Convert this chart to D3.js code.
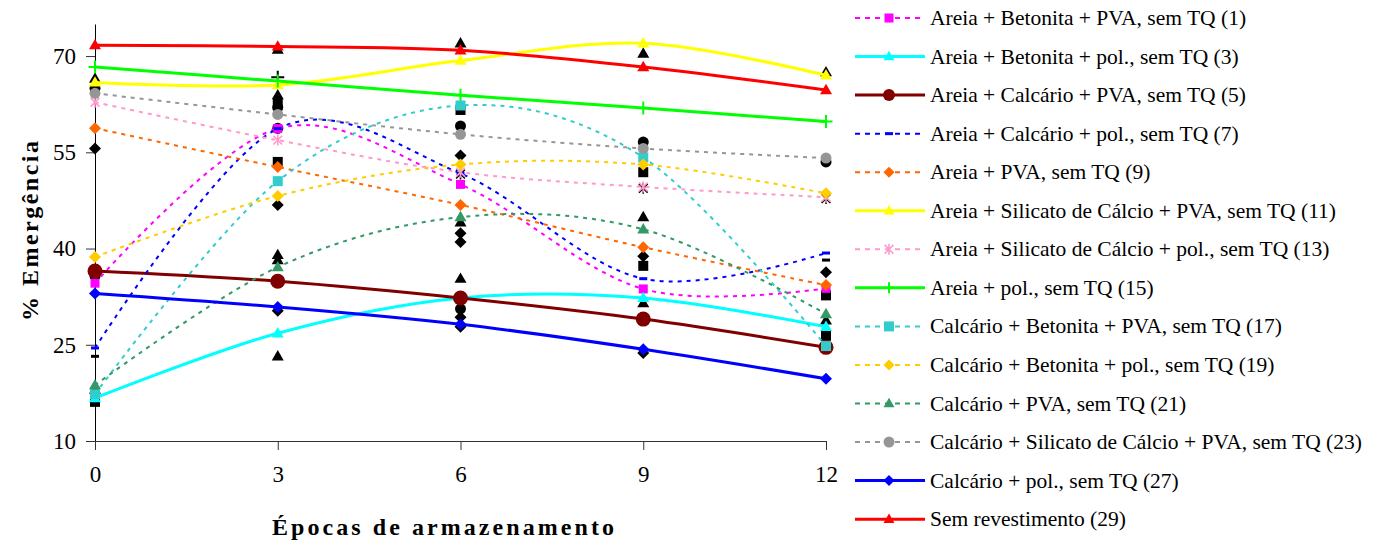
<!DOCTYPE html>
<html><head><meta charset="utf-8">
<script src="https://cdn.jsdelivr.net/npm/d3@7"></script>
<style>
html,body{margin:0;padding:0;background:#fff;}
svg{display:block;}
svg text{font-family:'Liberation Serif','DejaVu Serif',serif !important;}
</style></head>
<body>
<svg id="chart" width="1384" height="546"></svg>
<script>
// ---------- data ----------
const epochs = [0, 3, 6, 9, 12];
const yTicks = [10, 25, 40, 55, 70];
const xTitle = "Épocas de armazenamento";
const yTitle = "% Emergência";

const seriesNames = [
  "Areia + Betonita + PVA, sem TQ (1)",
  "Areia + Betonita + pol., sem TQ (3)",
  "Areia + Calcário + PVA, sem TQ (5)",
  "Areia + Calcário + pol., sem TQ (7)",
  "Areia + PVA, sem TQ (9)",
  "Areia + Silicato de Cálcio + PVA, sem TQ (11)",
  "Areia + Silicato de Cálcio + pol., sem TQ (13)",
  "Areia + pol., sem TQ (15)",
  "Calcário + Betonita + PVA, sem TQ (17)",
  "Calcário + Betonita + pol., sem TQ (19)",
  "Calcário + PVA, sem TQ (21)",
  "Calcário + Silicato de Cálcio + PVA, sem TQ (23)",
  "Calcário + pol., sem TQ (27)",
  "Sem revestimento (29)"
];
const s1  = [34.6, 58.7, 50.0, 33.7, 33.8];
const s3  = [16.7, 26.8, 32.3, 32.3, 27.8];
const s5  = [36.5, 34.9, 32.3, 29.0, 24.6];
const s7  = [24.5, 58.7, 51.7, 35.3, 39.3];
const s9  = [58.75, 52.7, 46.8, 40.2, 34.3];
const s11 = [65.9, 65.5, 69.3, 72.0, 67.0];
const s13 = [62.8, 56.9, 51.9, 49.6, 48.0];
const s15 = [68.3, 66.1, 63.9, 61.9, 59.8];
const s17 = [17.3, 50.5, 62.3, 54.2, 24.8];
const s19 = [38.7, 48.2, 53.1, 53.1, 48.6];
const s21 = [18.7, 37.1, 44.9, 43.0, 29.8];
const s23 = [64.2, 60.9, 57.8, 55.6, 54.1];
const s27 = [33.0, 30.9, 28.2, 24.3, 19.7];
const s29 = [71.7, 71.5, 70.9, 68.3, 64.7];
const seriesValues = [s1, s3, s5, s7, s9, s11, s13, s15, s17, s19, s21, s23, s27, s29];

// unlabelled black markers (epoch, value)
const blackTriangles = [[0,66.5],[0,18.0],[3,71.0],[3,63.9],[3,39.0],[3,38.2],[3,23.2],[6,72.0],[6,44.1],[6,35.3],[9,70.4],[9,44.9],[9,31.5],[12,67.5],[12,28.8]];
const blackCircles   = [[0,65.0],[0,35.7],[3,62.0],[3,58.75],[6,59.1],[6,30.6],[9,56.6],[12,53.5]];
const blackSquares   = [[0,16.1],[3,62.6],[3,53.5],[6,61.6],[9,51.9],[9,37.3],[12,32.7],[12,26.4]];
const blackDiamonds  = [[0,55.6],[3,46.8],[3,30.3],[6,54.5],[6,42.4],[6,41.0],[6,29.3],[6,27.8],[9,38.8],[9,23.7],[12,36.3]];
const blackDashes    = [[0,23.2],[12,38.2]];
const blackStars     = [[6,51.6],[9,49.4],[12,47.8]];
const blackPluses    = [[3,66.7]];

// ---------- styles ----------
const FONT = "'Liberation Serif','DejaVu Serif',serif";
const styles = [
  {color:"#FF00FF", marker:"square",   size:9,  dashed:true},
  {color:"#00FFFF", marker:"triangle", size:12, dashed:false},
  {color:"#800000", marker:"circle",   size:15, dashed:false},
  {color:"#0000FF", marker:"dash",     size:8,  dashed:true},
  {color:"#FF6600", marker:"diamond",  size:12, dashed:true},
  {color:"#FFFF00", marker:"triangle", size:12, dashed:false},
  {color:"#FF99CC", marker:"star",     size:11, dashed:true},
  {color:"#00FF00", marker:"plus",     size:13, dashed:false},
  {color:"#33CCCC", marker:"square",   size:10, dashed:true},
  {color:"#FFCC00", marker:"diamond",  size:12, dashed:true},
  {color:"#339966", marker:"triangle", size:12, dashed:true},
  {color:"#969696", marker:"circle",   size:11, dashed:true},
  {color:"#0000FF", marker:"diamond",  size:12, dashed:false},
  {color:"#FF0000", marker:"triangle", size:12, dashed:false}
];

const svg = d3.select("#chart").attr("font-family", FONT);
const x = d3.scaleLinear().domain([0, 12]).range([95, 826]);
const y = d3.scaleLinear().domain([10, 75]).range([441, 24]);

function drawMarker(g, type, cx, cy, s, color) {
  const h = s / 2;
  if (type === "square") {
    g.append("rect").attr("x", cx - h).attr("y", cy - h).attr("width", s).attr("height", s).attr("fill", color);
  } else if (type === "circle") {
    g.append("circle").attr("cx", cx).attr("cy", cy).attr("r", h).attr("fill", color);
  } else if (type === "triangle") {
    const hh = s * 0.866;
    g.append("path").attr("d", `M${cx},${cy - hh * 0.6}L${cx + h},${cy + hh * 0.4}L${cx - h},${cy + hh * 0.4}Z`).attr("fill", color);
  } else if (type === "diamond") {
    g.append("path").attr("d", `M${cx},${cy - h}L${cx + h},${cy}L${cx},${cy + h}L${cx - h},${cy}Z`).attr("fill", color);
  } else if (type === "dash") {
    g.append("rect").attr("x", cx - h).attr("y", cy - 1.5).attr("width", s).attr("height", 3).attr("fill", color);
  } else if (type === "star") {
    const a = h * 0.8;
    g.append("path").attr("d", `M${cx - a},${cy - a}L${cx + a},${cy + a}M${cx + a},${cy - a}L${cx - a},${cy + a}M${cx},${cy - h}L${cx},${cy + h}`)
      .attr("stroke", color).attr("stroke-width", 1.6).attr("fill", "none");
  } else if (type === "plus") {
    g.append("path").attr("d", `M${cx - h},${cy}L${cx + h},${cy}M${cx},${cy - h}L${cx},${cy + h}`)
      .attr("stroke", color).attr("stroke-width", 2).attr("fill", "none");
  }
}

// ---------- axes ----------
const axisColor = "#333";
const yAxis = d3.axisLeft(y).tickValues(yTicks).tickSize(9).tickSizeOuter(0).tickPadding(10);
const gy = svg.append("g").attr("transform", "translate(95,0)").call(yAxis).attr("font-family", FONT);
gy.select(".domain").attr("stroke", "#000");
gy.selectAll(".tick line").attr("stroke", axisColor);
gy.selectAll(".tick text").attr("font-size", 23).attr("font-family", FONT).attr("fill", "#000");

const xAxis = d3.axisBottom(x).tickValues(epochs).tickSize(9).tickSizeOuter(0).tickPadding(16);
const gx = svg.append("g").attr("transform", "translate(0,441)").call(xAxis).attr("font-family", FONT);
gx.select(".domain").attr("stroke", axisColor);
gx.selectAll(".tick line").attr("stroke", axisColor);
gx.selectAll(".tick text").attr("font-size", 23).attr("font-family", FONT).attr("fill", "#000");

svg.append("text").attr("x", 443).attr("y", 535).attr("text-anchor", "middle").attr("font-family", FONT)
  .attr("font-size", 24).attr("font-weight", "bold").attr("textLength", 342).attr("lengthAdjust", "spacing").text(xTitle);
svg.append("text").attr("transform", "translate(30,231) rotate(-90)").attr("text-anchor", "middle").attr("font-family", FONT)
  .attr("dominant-baseline", "central").attr("font-size", 24).attr("font-weight", "bold")
  .attr("textLength", 180).attr("lengthAdjust", "spacing").text(yTitle);

// ---------- black markers ----------
const gb = svg.append("g");
blackTriangles.forEach(p => drawMarker(gb, "triangle", x(p[0]), y(p[1]), 12, "#000"));
blackCircles.forEach(p => drawMarker(gb, "circle", x(p[0]), y(p[1]), 11, "#000"));
blackSquares.forEach(p => drawMarker(gb, "square", x(p[0]), y(p[1]), 10, "#000"));
blackDiamonds.forEach(p => drawMarker(gb, "diamond", x(p[0]), y(p[1]), 12, "#000"));
blackDashes.forEach(p => drawMarker(gb, "dash", x(p[0]), y(p[1]), 8, "#000"));
blackStars.forEach(p => drawMarker(gb, "star", x(p[0]), y(p[1]), 11, "#000"));
blackPluses.forEach(p => drawMarker(gb, "plus", x(p[0]), y(p[1]), 13, "#000"));

// ---------- series ----------
const line = d3.line().x((d, i) => x(epochs[i])).y(d => y(d)).curve(d3.curveCardinal.tension(0));
const gl = svg.append("g");
seriesValues.forEach((vals, k) => {
  const st = styles[k];
  gl.append("path").datum(vals).attr("d", line).attr("fill", "none")
    .attr("stroke", st.color).attr("stroke-width", st.dashed ? 2 : 3)
    .attr("stroke-dasharray", st.dashed ? "4,5" : null);
});
const gm = svg.append("g");
seriesValues.forEach((vals, k) => {
  const st = styles[k];
  vals.forEach((v, i) => drawMarker(gm, st.marker, x(epochs[i]), y(v), st.size, st.color));
});

// ---------- legend ----------
const lg = svg.append("g");
seriesNames.forEach((name, k) => {
  const st = styles[k];
  const cy = 18 + k * 38.55;
  lg.append("line").attr("x1", 855).attr("x2", 925).attr("y1", cy).attr("y2", cy)
    .attr("stroke", st.color).attr("stroke-width", st.dashed ? 2 : 3)
    .attr("stroke-dasharray", st.dashed ? "5,5" : null);
  const ms = st.marker === "circle" ? Math.min(st.size, 12) : Math.min(st.size, 11);
  drawMarker(lg, st.marker, 889, cy, ms, st.color);
  lg.append("text").attr("x", 930).attr("y", cy).attr("dominant-baseline", "central").attr("font-family", FONT)
    .attr("font-size", 21.5).attr("fill", "#000").text(name);
});
</script>
</body></html>
